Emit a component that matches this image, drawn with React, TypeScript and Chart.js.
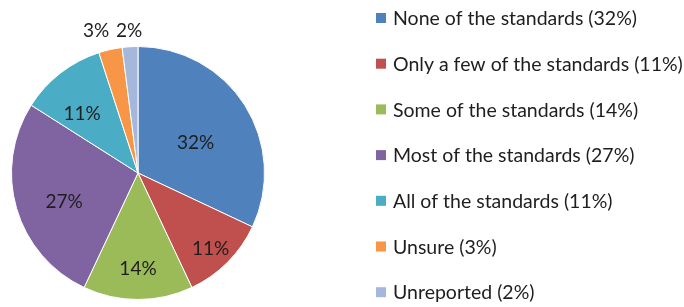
import React, { useEffect, useRef } from "react";
import { Chart, registerables } from "chart.js";

Chart.register(...registerables);

const categories = [
  "None of the standards",
  "Only a few of the standards",
  "Some of the standards",
  "Most of the standards",
  "All of the standards",
  "Unsure",
  "Unreported",
];
const values = [32, 11, 14, 27, 11, 3, 2];
const colors = ["#4F81BD", "#C0504D", "#9BBB59", "#8064A2", "#4BACC6", "#F79646", "#A5B8DC"];

const FONT = "Lato, 'Open Sans', sans-serif";

const labelPlugin = {
  id: "sliceLabels",
  afterDatasetsDraw(chart: any, _args: any, opts: any) {
    const ctx = chart.ctx;
    const meta = chart.getDatasetMeta(0);
    ctx.save();
    ctx.font = `${opts.fontSize}px ${FONT}`;
    ctx.fillStyle = "#1e1e1e";
    ctx.textAlign = "center";
    ctx.textBaseline = "middle";
    meta.data.forEach((arc: any, i: number) => {
      const { x, y, startAngle, endAngle, outerRadius } = arc.getProps(
        ["x", "y", "startAngle", "endAngle", "outerRadius"],
        true
      );
      const mid = (startAngle + endAngle) / 2;
      const f = opts.radiusFactors[i];
      const px = x + Math.cos(mid) * outerRadius * f + (opts.dx[i] || 0);
      const py = y + Math.sin(mid) * outerRadius * f + (opts.dy[i] || 0);
      ctx.fillText(`${values[i]}%`, px, py);
    });
    ctx.restore();
  },
};

const legendPlugin = {
  id: "sideLegend",
  afterDraw(chart: any, _args: any, opts: any) {
    const ctx = chart.ctx;
    ctx.save();
    ctx.font = `${opts.fontSize}px ${FONT}`;
    ctx.textBaseline = "middle";
    ctx.textAlign = "left";
    categories.forEach((c, i) => {
      const cy = opts.top + i * opts.step;
      ctx.fillStyle = colors[i];
      ctx.fillRect(opts.left, cy - opts.box / 2, opts.box, opts.box);
      ctx.fillStyle = "#1e1e1e";
      ctx.fillText(`${c} (${values[i]}%)`, opts.left + opts.box + 7, cy + 1);
    });
    ctx.restore();
  },
};

export default function App() {
  const ref = useRef<HTMLCanvasElement>(null);
  useEffect(() => {
    document.body.style.margin = "0";
    const chart = new Chart(ref.current!, {
      type: "pie",
      data: {
        labels: categories,
        datasets: [
          {
            data: values,
            backgroundColor: colors,
            borderColor: "#ffffff",
            borderWidth: 1,
          },
        ],
      },
      options: {
        animation: false,
        responsive: false,
        layout: { padding: { left: 10, right: 418, top: 46, bottom: 7 } },
        plugins: {
          legend: { display: false },
          tooltip: { enabled: false },
          sliceLabels: {
            fontSize: 19,
            radiusFactors: [0.54, 0.8, 0.76, 0.62, 0.67, 1.12, 1.12],
            dx: [0, 1, 0, 1.5, -4, -11, 0],
            dy: [6, 4, 0, 7, 8, -4, -1],
          },
          sideLegend: { fontSize: 19.5, left: 376, top: 18, step: 45.7, box: 10 },
        } as any,
      },
      plugins: [labelPlugin, legendPlugin],
    });
    return () => chart.destroy();
  }, []);
  return <canvas ref={ref} width={684} height={307} style={{ display: "block" }} />;
}
